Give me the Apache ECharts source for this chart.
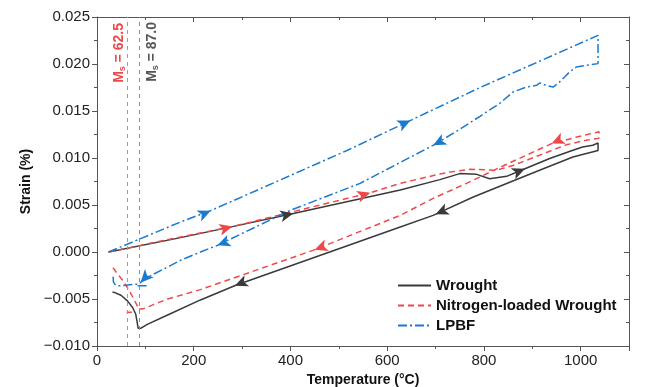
<!DOCTYPE html>
<html><head><meta charset="utf-8">
<script src="https://cdn.jsdelivr.net/npm/echarts@6/dist/echarts.min.js"></script>
<style>html,body{margin:0;padding:0;background:#fff}#c{width:650px;height:387px}</style>
</head><body><div id="c"></div>
<script>
// ---- data (Temperature °C, Strain %) ----
const seriesNames = ['Wrought', 'Nitrogen-loaded Wrought', 'LPBF'];
const msValues = [62.5, 87.0];
const msLabels = ['62.5', '87.0'];

const wroughtHeat = [[24,0],[173,0.00153],[280,0.0027],[406,0.0041],[627,0.0066],[709,0.0077],[750,0.00834],[785,0.00826],[812,0.0078],[847,0.00805],[881,0.00877],[936,0.00994],[984,0.01082],[1004,0.01117],[1025,0.01135],[1036,0.0116]];
const wroughtCool = [[1036,0.0108],[984,0.0101],[915,0.0087],[847,0.00728],[778,0.00585],[695,0.0039],[627,0.00266],[287,-0.00354],[214,-0.0051],[146,-0.0067],[104,-0.0077],[91,-0.0081],[85,-0.0081],[82.5,-0.0073],[80,-0.0066],[73.6,-0.0059],[63,-0.0052],[49.5,-0.0046],[35.7,-0.0043],[32,-0.00426]];

const nitroHeat = [[24,0],[173,0.0016],[280,0.0027],[406,0.0043],[565,0.0063],[627,0.0073],[709,0.0083],[730,0.0085],[771,0.0088],[826,0.0087],[860,0.0092],[915,0.0103],[970,0.0114],[1012,0.0119],[1038,0.0121]];
const nitroCool = [[1038,0.0128],[990,0.0122],[940,0.01153],[888,0.0103],[833,0.009],[764,0.0073],[695,0.0057],[627,0.0039],[448,0.0002],[214,-0.004],[146,-0.005],[97.5,-0.006],[85,-0.0061],[84,-0.0058],[77,-0.0051],[66.6,-0.0041],[53,-0.003],[39,-0.0021],[32,-0.0016]];
const nitroMark = [[61,-0.0064],[72,-0.0064]];

const lpbfHeat = [[24,0],[173,0.0032],[235,0.0044],[517,0.0108],[792,0.0175],[1036,0.02305]];
const lpbfCool = [[1036,0.02004],[1012,0.01986],[991,0.01968],[977,0.01915],[967,0.01862],[953,0.01791],[943,0.01755],[929,0.01773],[915,0.01798],[909,0.01773],[888,0.01755],[860,0.01702],[833,0.01582],[792,0.01444],[750,0.01305],[695,0.01135],[544,0.0073],[400,0.00444],[249,0.00071],[214,0],[173,-0.00088],[146,-0.0016],[104,-0.0027],[94,-0.003],[88,-0.0034],[84,-0.0036],[45,-0.0036],[38,-0.0035],[34,-0.0032],[33,-0.0023]];
const lpbfPiece = [[84,-0.0036],[104,-0.0036]];

// arrows: [temperature, direction (+1 heating / -1 cooling)]
const wroughtHeatArrows = [[406,1],[885,1]];
const wroughtCoolArrows = [[700,-1],[285,-1]];
const nitroHeatArrows = [[280,1],[565,1]];
const nitroCoolArrows = [[940,-1],[450,-1]];
const lpbfHeatArrows = [[235,1],[648,1]];
const lpbfCoolArrows = [[695,-1],[249,-1],[90,-1]];

const colors = ['#3a3a3a', '#f04848', '#1a7ad0'];
const FONT = '"Liberation Sans", Arial, sans-serif';

const chart = echarts.init(document.getElementById('c'), null, {renderer: 'canvas'});

function lineSeries(name, data, color, type, z) {
  return {name, type: 'line', data, symbol: 'none', smooth: false, z,
    lineStyle: {color, width: 1.5, type}, itemStyle: {color}, silent: true, animation: false};
}

function axis(extra, labels) {
  return Object.assign({
    type: 'value', splitLine: {show: false},
    axisLine: {show: true, onZero: false, lineStyle: {color: '#555', width: 1}},
    axisTick: {show: true, inside: !labels, length: 5, lineStyle: {color: '#555'}},
    minorTick: {show: true, splitNumber: 2, length: 3, lineStyle: {color: '#555'}},
    axisLabel: labels ? Object.assign({fontFamily: FONT, fontSize: 15, color: '#222', margin: 7}, labels) : {show: false}
  }, extra);
}

const option = {
  animation: false,
  grid: {left: 97, right: 21, top: 17, bottom: 41, outerBoundsMode: 'none', containLabel: false},
  xAxis: [
    axis({min: 0, max: 1100, interval: 200, position: 'bottom',
      name: 'Temperature (°C)', nameLocation: 'middle', nameGap: 23,
      nameTextStyle: {fontFamily: FONT, fontWeight: 'bold', fontSize: 14, color: '#111'}},
      {showMaxLabel: false, formatter: v => (v > 1050 ? '' : String(v))}),
    axis({min: 0, max: 1100, interval: 200, position: 'top'}, null)
  ],
  yAxis: [
    axis({min: -0.01, max: 0.025, interval: 0.005, position: 'left',
      name: 'Strain (%)', nameLocation: 'middle', nameGap: 41,
      nameTextStyle: {fontFamily: FONT, fontWeight: 'bold', fontSize: 14, color: '#111'}},
      {formatter: v => (v < -1e-9 ? '\u2212' : '') + Math.abs(v).toFixed(3)}),
    axis({min: -0.01, max: 0.025, interval: 0.005, position: 'right'}, null)
  ],
  legend: {
    data: seriesNames, orient: 'vertical', left: 397, top: 278, padding: 0,
    itemWidth: 33, itemHeight: 14, itemGap: 5,
    itemStyle: {opacity: 0, borderWidth: 0},
    textStyle: {fontFamily: FONT, fontWeight: 'bold', fontSize: 15, color: '#111'},
    selectedMode: false
  },
  series: [
    {name: 'ms', type: 'line', data: [], silent: true,
      markLine: {symbol: 'none', silent: true, animation: false,
        data: [
          {xAxis: msValues[0], lineStyle: {color: '#f47a7a', type: [4, 4], width: 1},
            label: {show: true, position: 'insideEndTop', distance: 0, padding: [0, 6, 0, 0],
              formatter: '{a|M}{s|s}{a| = ' + msLabels[0] + '}',
              rich: {a: {fontFamily: FONT, fontSize: 14, fontWeight: 'bold', color: '#f04848', lineHeight: 16},
                     s: {fontFamily: FONT, fontSize: 9, fontWeight: 'bold', color: '#f04848', verticalAlign: 'bottom', lineHeight: 16}}}},
          {xAxis: msValues[1], lineStyle: {color: '#8c8c8c', type: [4, 4], width: 1},
            label: {show: true, position: 'insideEndBottom', distance: 5,
              formatter: '{a|M}{s|s}{a| = ' + msLabels[1] + '}',
              rich: {a: {fontFamily: FONT, fontSize: 14, fontWeight: 'bold', color: '#555', lineHeight: 16},
                     s: {fontFamily: FONT, fontSize: 9, fontWeight: 'bold', color: '#555', verticalAlign: 'bottom', lineHeight: 16}}}}
        ]}},
    lineSeries(seriesNames[0], wroughtHeat.concat(wroughtCool), colors[0], 'solid', 2),
    lineSeries(seriesNames[1], nitroHeat.concat(nitroCool), colors[1], [6, 4], 3),
    lineSeries(seriesNames[1], nitroMark, colors[1], 'solid', 3),
    lineSeries(seriesNames[2], lpbfHeat.concat(lpbfCool), colors[2], [9, 3, 2, 3], 4),
    lineSeries(seriesNames[2], lpbfPiece, colors[2], [9, 3, 2, 3], 4)
  ]
};
chart.setOption(option);

function interp(branch, T) {
  for (let i = 0; i < branch.length - 1; i++) {
    const a = branch[i], b = branch[i + 1];
    if ((T - a[0]) * (T - b[0]) <= 0 && a[0] !== b[0]) {
      const t = (T - a[0]) / (b[0] - a[0]);
      return a[1] + t * (b[1] - a[1]);
    }
  }
  return branch[branch.length - 1][1];
}

function arrowData(branch, arrows) {
  return arrows.map(([T, dir]) => {
    const y = interp(branch, T);
    const T2 = T + dir * 6;
    const y2 = interp(branch, T2);
    const p0 = chart.convertToPixel({xAxisIndex: 0, yAxisIndex: 0}, [T, y]);
    const p1 = chart.convertToPixel({xAxisIndex: 0, yAxisIndex: 0}, [T2, y2]);
    const ang = Math.atan2(-(p1[1] - p0[1]), p1[0] - p0[0]) * 180 / Math.PI;
    return {value: [T, y], symbolRotate: ang - 90};
  });
}

function arrowSeries(data, color, z) {
  return {name: 'arrows', type: 'scatter', data, symbol: 'arrow', symbolSize: [9, 13],
    itemStyle: {color, opacity: 1}, z, silent: true, animation: false};
}

chart.setOption({series: option.series.concat([
  arrowSeries(arrowData(wroughtHeat, wroughtHeatArrows).concat(arrowData(wroughtCool, wroughtCoolArrows)), colors[0], 5),
  arrowSeries(arrowData(nitroHeat, nitroHeatArrows).concat(arrowData(nitroCool, nitroCoolArrows)), colors[1], 5),
  arrowSeries(arrowData(lpbfHeat, lpbfHeatArrows).concat(arrowData(lpbfCool, lpbfCoolArrows)), colors[2], 5)
])});
</script>
</body></html>
